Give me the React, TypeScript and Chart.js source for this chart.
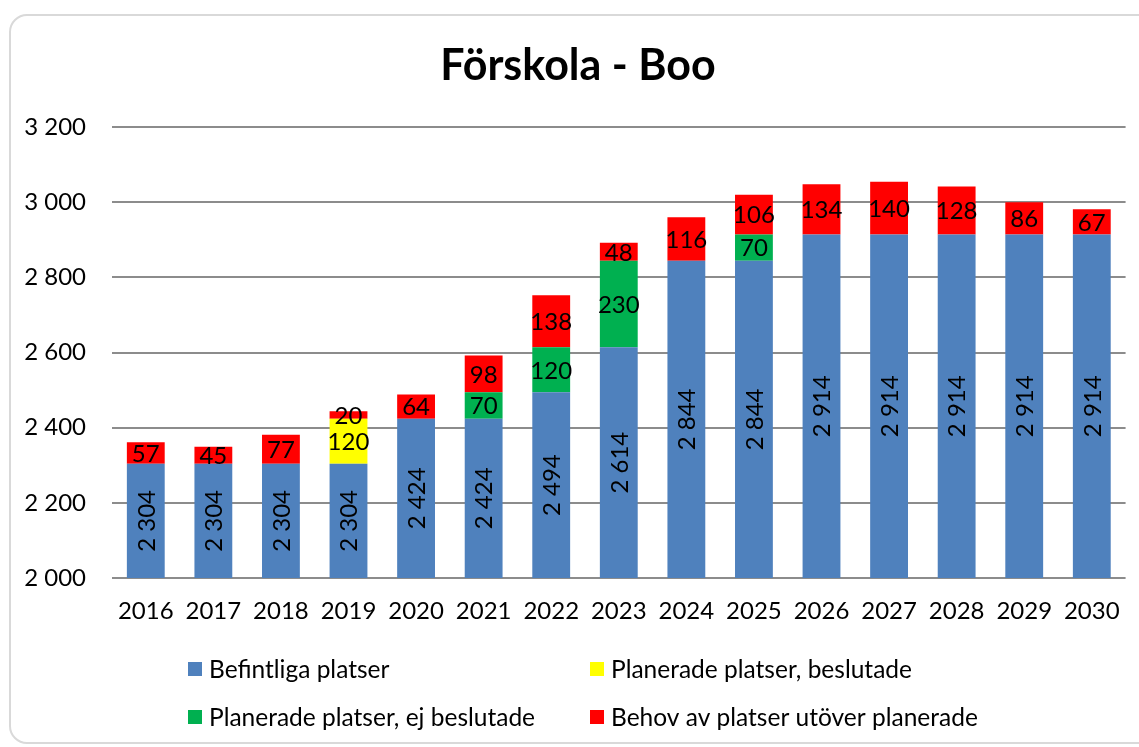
import React, { useEffect, useRef } from "react";
import { Chart, registerables } from "chart.js";

Chart.register(...registerables);

const categories = ["2016", "2017", "2018", "2019", "2020", "2021", "2022", "2023", "2024", "2025", "2026", "2027", "2028", "2029", "2030"];
const befintliga = [2304, 2304, 2304, 2304, 2424, 2424, 2494, 2614, 2844, 2844, 2914, 2914, 2914, 2914, 2914];
const beslutade = [0, 0, 0, 120, 0, 0, 0, 0, 0, 0, 0, 0, 0, 0, 0];
const ejBeslutade = [0, 0, 0, 0, 0, 70, 120, 230, 0, 70, 0, 0, 0, 0, 0];
const behov = [57, 45, 77, 20, 64, 98, 138, 48, 116, 106, 134, 140, 128, 86, 67];
const seriesNames = ["Befintliga platser", "Planerade platser, beslutade", "Planerade platser, ej beslutade", "Behov av platser utöver planerade"];
const seriesColors = ["#4F81BD", "#FFFF00", "#00B050", "#FF0000"];
const titleText = "Förskola - Boo";
const yMin = 2000;
const yMax = 3200;
const yStep = 200;

const FONT = "Lato, 'Open Sans', sans-serif";

const fmt = (n: number) => String(n).replace(/\B(?=(\d{3})+(?!\d))/g, " ");

const titleShiftPlugin = {
  id: "titleShift",
  afterLayout(chart: any) {
    const tb = chart.titleBlock;
    if (tb) {
      tb.left += 14;
      tb.right += 14;
    }
  },
};

const labelPlugin = {
  id: "barLabels",
  afterDatasetsDraw(chart: any) {
    const ctx = chart.ctx;
    const area = chart.chartArea;
    ctx.save();
    ctx.fillStyle = "#000";
    ctx.font = `24px ${FONT}`;
    ctx.textAlign = "center";
    ctx.textBaseline = "middle";
    chart.data.datasets.forEach((ds: any, di: number) => {
      const meta = chart.getDatasetMeta(di);
      meta.data.forEach((el: any, i: number) => {
        const v = ds.data[i];
        if (!v) return;
        const p = el.getProps(["x", "y", "base"], true);
        const top = Math.max(Math.min(p.y, p.base), area.top);
        const bottom = Math.min(Math.max(p.y, p.base), area.bottom);
        const cy = (top + bottom) / 2;
        if (di === 0) {
          ctx.save();
          ctx.translate(p.x, cy);
          ctx.rotate(-Math.PI / 2);
          ctx.fillText(fmt(v), 0, 1);
          ctx.restore();
        } else {
          ctx.fillText(fmt(v), p.x, cy + 1);
        }
      });
    });
    ctx.restore();
  },
};

const legendPlugin = {
  id: "gridLegend",
  afterDraw(chart: any) {
    const ctx = chart.ctx;
    ctx.save();
    ctx.font = `24.5px ${FONT}`;
    ctx.textBaseline = "middle";
    ctx.textAlign = "left";
    const cols = [188, 590];
    const rows = [669, 717];
    chart.data.datasets.forEach((ds: any, i: number) => {
      const x = cols[i % 2];
      const y = rows[Math.floor(i / 2)];
      ctx.fillStyle = ds.backgroundColor;
      ctx.fillRect(x, y - 7, 14, 14);
      ctx.fillStyle = "#000";
      ctx.fillText(ds.label, x + 21, y + 1);
    });
    ctx.restore();
  },
};

export default function App() {
  const ref = useRef<HTMLCanvasElement | null>(null);
  useEffect(() => {
    if (!ref.current) return;
    const series = [befintliga, beslutade, ejBeslutade, behov];
    const chart = new Chart(ref.current, {
      type: "bar",
      data: {
        labels: categories,
        datasets: series.map((d, i) => ({
          label: seriesNames[i],
          data: d,
          backgroundColor: seriesColors[i],
          borderWidth: 0,
          barPercentage: 0.56,
          categoryPercentage: 1,
        })),
      },
      options: {
        animation: false,
        responsive: false,
        maintainAspectRatio: false,
        layout: { padding: { left: 0, right: 11, top: 0, bottom: 121 } },
        plugins: {
          legend: { display: false },
          tooltip: { enabled: false },
          title: {
            display: true,
            text: titleText,
            color: "#000",
            font: { family: FONT, size: 43, weight: "bold" },
            padding: { top: 40, bottom: 35.4 },
          },
        },
        scales: {
          x: {
            stacked: true,
            grid: { display: false, drawTicks: false },
            border: { display: false },
            ticks: { color: "#000", font: { family: FONT, size: 24 }, padding: 19, maxRotation: 0, autoSkip: false },
            afterFit: (s: any) => { s.height = 48; },
          },
          y: {
            stacked: true,
            min: yMin,
            max: yMax,
            grid: { color: "#8c8c8c", lineWidth: 2, drawTicks: false },
            border: { display: false },
            ticks: {
              stepSize: yStep,
              color: "#000",
              font: { family: FONT, size: 24 },
              padding: 26,
              callback: (v: any) => fmt(Number(v)),
            },
            afterFit: (s: any) => { s.width = 112; },
          },
        },
      },
      plugins: [titleShiftPlugin, labelPlugin, legendPlugin],
    });
    return () => chart.destroy();
  }, []);

  return (
    <div style={{ position: "fixed", left: 0, top: 0, width: 1139, height: 747, overflow: "hidden", background: "#fff" }}>
      <div
        style={{
          position: "absolute",
          left: 9,
          top: 14,
          width: 1150,
          height: 730,
          border: "2px solid #d9d9d9",
          borderRadius: 18,
          boxSizing: "border-box",
        }}
      />
      <canvas ref={ref} width={1139} height={747} style={{ position: "absolute", left: 0, top: 0, width: 1139, height: 747 }} />
    </div>
  );
}
